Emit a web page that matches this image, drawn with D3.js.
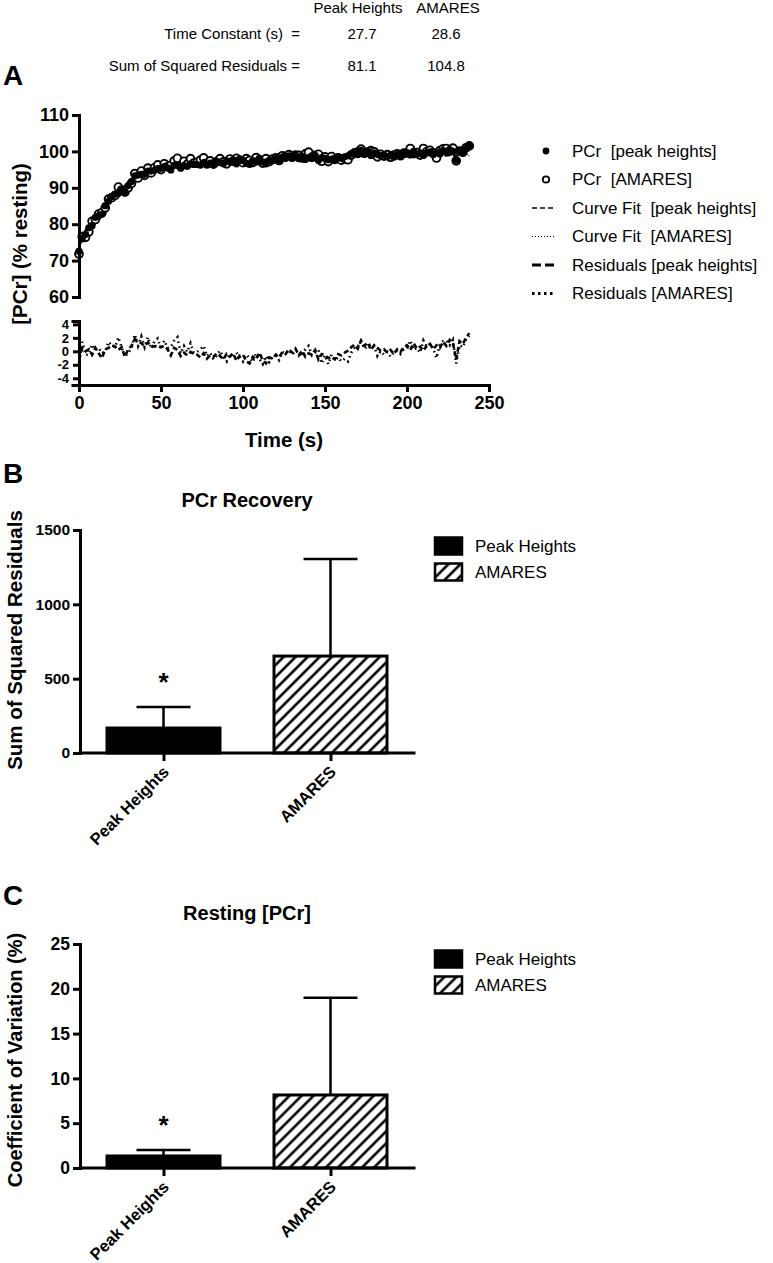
<!DOCTYPE html>
<html><head><meta charset="utf-8">
<script src="https://cdn.jsdelivr.net/npm/d3@7"></script>
<style>
body{margin:0;background:#fff}
svg{display:block}
svg text{white-space:pre}
</style>
</head><body>
<svg id="chart" width="773" height="1263"></svg>
<script>
// ---------- DATA ----------
const tableCols = ["Peak Heights", "AMARES"];
const tableRows = ["Time Constant (s)  =", "Sum of Squared Residuals ="];
const timeConstant = ["27.7", "28.6"];
const sumSqResid = ["81.1", "104.8"];

const times = [0,2,4,6,8,10,12,14,16,18,20,22,24,26,28,30,32,34,36,38,
 40,42,44,46,48,50,52,54,56,58,60,62,64,66,68,70,72,74,76,78,
 80,82,84,86,88,90,92,94,96,98,100,102,104,106,108,110,112,114,116,118,
 120,122,124,126,128,130,132,134,136,138,140,142,144,146,148,150,152,154,156,158,
 160,162,164,166,168,170,172,174,176,178,180,182,184,186,188,190,192,194,196,198,
 200,202,204,206,208,210,212,214,216,218,220,222,224,226,228,230,232,234,236,238];

const pcrPeak = [72.6,76.0,77.2,79.0,79.6,81.9,82.3,82.7,85.1,86.3,
 87.6,88.2,88.5,89.6,88.9,90.6,91.7,93.3,93.5,93.7,
 93.7,94.6,94.6,94.8,95.3,95.3,95.8,95.5,94.9,96.2,
 96.1,95.4,96.1,95.9,96.6,96.4,96.4,96.2,96.9,96.2,
 96.8,96.7,97.3,97.0,96.6,97.4,97.1,97.7,96.6,97.5,
 97.6,96.7,96.4,97.5,97.1,98.1,97.1,96.6,97.5,97.4,
 98.0,97.6,98.4,98.1,98.8,98.3,99.0,98.0,98.7,97.8,
 98.3,98.1,98.9,97.5,98.3,98.1,97.7,97.9,97.5,98.3,
 98.1,98.5,98.8,99.3,99.7,99.1,100.3,99.5,100.0,98.9,
 99.6,99.2,98.8,99.0,98.5,99.0,98.4,99.1,98.7,99.4,
 99.7,99.0,100.0,99.2,99.5,98.9,99.6,99.9,99.1,99.7,
 99.3,100.2,99.6,100.5,100.0,97.6,100.3,99.9,100.8,101.5];

const pcrAmares = [71.8,76.6,76.4,77.9,80.8,81.3,82.8,83.2,84.5,86.9,
 87.3,87.9,90.2,89.4,88.8,90.0,91.2,93.9,92.7,94.6,
 93.4,95.4,94.1,95.5,96.3,95.0,96.6,95.8,96.2,97.4,
 98.1,96.0,97.3,96.5,98.0,96.8,97.0,97.6,98.2,96.8,
 97.4,96.5,97.2,98.0,97.1,96.6,97.9,97.3,98.1,97.6,
 96.9,98.0,97.5,97.0,98.3,97.6,96.8,98.0,97.2,97.9,
 98.2,97.5,98.8,98.6,99.1,98.4,99.0,98.9,98.2,99.3,
 99.8,98.4,98.9,99.2,97.3,98.5,97.2,98.6,97.8,98.2,
 97.6,98.0,97.7,99.0,99.6,99.8,100.6,99.5,99.8,100.2,
 99.9,98.5,99.2,98.7,99.1,98.4,99.0,99.3,98.8,99.5,
 99.6,100.8,99.4,99.7,99.0,100.8,99.9,100.3,99.6,98.2,
 100.2,100.7,100.8,100.1,100.9,97.4,100.1,99.8,101.0,101.5];

const residPeak = [-1.2,0.5,0.0,0.3,-0.5,0.5,-0.3,-1.0,0.3,0.5,
 0.9,0.7,0.2,0.6,-0.8,0.3,0.8,1.8,1.5,1.2,
 0.8,1.3,0.9,0.7,0.9,0.6,0.8,0.3,-0.6,0.5,
 0.2,-0.7,-0.2,-0.6,-0.1,-0.4,-0.5,-0.9,-0.3,-1.1,
 -0.6,-0.8,-0.3,-0.7,-1.2,-0.4,-0.8,-0.3,-1.4,-0.6,
 -0.5,-1.5,-1.8,-0.8,-1.2,-0.2,-1.3,-1.8,-0.9,-1.1,
 -0.5,-0.9,-0.1,-0.4,0.3,-0.2,0.4,-0.6,0.1,-0.8,
 -0.3,-0.5,0.2,-1.2,-0.4,-0.6,-1.0,-0.8,-1.2,-0.4,
 -0.6,-0.2,0.1,0.6,1.0,0.4,1.6,0.8,1.3,0.2,
 0.9,0.5,0.1,0.3,-0.2,0.2,-0.4,0.3,-0.1,0.6,
 0.9,0.2,1.2,0.4,0.7,0.1,0.8,1.1,0.3,0.9,
 0.5,1.4,0.8,1.7,1.2,-1.2,1.5,1.1,2.0,2.7];

const residAmares = [-1.7,1.4,-0.5,-0.5,1.0,0.2,0.5,-0.3,0.0,1.4,
 0.9,0.6,2.1,0.6,-0.8,-0.2,0.4,2.5,0.8,2.2,
 0.6,2.1,0.4,1.5,1.9,0.3,1.6,0.5,0.6,1.6,
 2.1,-0.3,0.8,-0.1,1.2,-0.2,-0.1,0.3,0.8,-0.7,
 -0.2,-1.2,-0.6,0.1,-0.9,-1.5,-0.3,-0.9,-0.2,-0.8,
 -1.5,-0.5,-1.0,-1.6,-0.3,-1.1,-1.9,-0.7,-1.6,-0.9,
 -0.6,-1.3,-0.1,-0.3,0.2,-0.5,0.1,-0.1,-0.8,0.3,
 0.8,-0.6,-0.2,0.2,-1.8,-0.6,-1.9,-0.5,-1.3,-0.9,
 -1.5,-1.1,-1.5,-0.2,0.5,0.7,1.5,0.4,0.7,1.1,
 0.8,-0.7,0.0,-0.5,-0.1,-0.8,-0.2,0.1,-0.4,0.3,
 0.4,1.6,0.2,0.5,-0.2,1.6,0.7,1.1,0.4,-1.0,
 1.0,1.5,1.6,0.9,1.7,-1.8,0.9,0.6,1.8,2.3];

const fitTimes = [0,2,4,6,8,10,15,20,25,30,40,50,60,70,80,90,100,120,140,160,180,200,220,238];
const fitPeak = [73.8,75.5,77.2,78.7,80.1,81.4,84.3,86.7,88.6,90.3,92.9,94.7,95.9,96.8,97.4,97.8,98.1,98.5,98.6,98.7,98.8,98.8,98.8,98.8];
const fitAmares = [73.5,75.2,76.9,78.4,79.8,81.1,84.0,86.4,88.4,90.2,92.85,94.7,96.05,97.0,97.6,98.1,98.4,98.8,99.0,99.1,99.15,99.2,99.2,99.2];

const xTicksA = [0,50,100,150,200,250];
const yTicksA = [60,70,80,90,100,110];
const yTicksRes = [-4,-2,0,2,4];

const legendA = ["PCr  [peak heights]", "PCr  [AMARES]", "Curve Fit  [peak heights]", "Curve Fit  [AMARES]", "Residuals [peak heights]", "Residuals [AMARES]"];

const barCategories = ["Peak Heights", "AMARES"];
const ssrMean = [168, 652];
const ssrSD = [141, 653];
const ssrTicks = [0,500,1000,1500];
const cvMean = [1.34, 8.15];
const cvSD = [0.66, 10.85];
const cvTicks = [0,5,10,15,20,25];

// ---------- DRAW ----------
const FONT = '"Liberation Sans", Arial, Helvetica, sans-serif';
const plain = d => String(d);
const svg = d3.select("#chart").attr("font-family", FONT);
svg.append("rect").attr("width",773).attr("height",1263).attr("fill","#fff");

const defs = svg.append("defs");
const pat = defs.append("pattern").attr("id","hatch").attr("patternUnits","userSpaceOnUse")
  .attr("width",8.5).attr("height",8.5).attr("patternTransform","rotate(45)");
pat.append("rect").attr("width",8.5).attr("height",8.5).attr("fill","#fff");
pat.append("line").attr("x1",2).attr("y1",0).attr("x2",2).attr("y2",8.5).attr("stroke","#000").attr("stroke-width",2.6);

function styleAxis(g, fs){
  g.attr("font-family", FONT).attr("font-size", fs).attr("font-weight","bold");
  g.select(".domain").attr("stroke","#000").attr("stroke-width",3).attr("stroke-linecap","square");
  g.selectAll(".tick line").attr("stroke","#000").attr("stroke-width",3);
  g.selectAll(".tick text").attr("fill","#000");
}

// top table
const tbl = svg.append("g").attr("font-size",15);
tbl.selectAll(".hdr").data(tableCols).join("text")
  .attr("x",(d,i)=>[358,448][i]).attr("y",13).attr("text-anchor","middle").text(d=>d);
tbl.selectAll(".rl").data(tableRows).join("text")
  .attr("x",300).attr("y",(d,i)=>[39,71][i]).attr("text-anchor","end").text(d=>d);
[timeConstant, sumSqResid].forEach((row,ri)=>{
  tbl.selectAll(".v"+ri).data(row).join("text")
    .attr("x",(d,i)=>[362,446][i]).attr("y",[39,71][ri]).attr("text-anchor","middle").text(d=>d);
});

// panel letters
[["A",85],["B",483],["C",905]].forEach(([l,y])=>{
  svg.append("text").attr("x",3).attr("y",y).attr("font-size",28).attr("font-weight","bold").text(l);
});

// ----- Panel A -----
const xA = d3.scaleLinear().domain([0,250]).range([79,489]);
const yA = d3.scaleLinear().domain([60,110]).range([297,115]);
const yR = d3.scaleLinear().domain([-5,4.5]).range([385,321]);

const gA = svg.append("g");
const fitLine = d3.line().x((d,i)=>xA(fitTimes[i])).y(d=>yA(d)).curve(d3.curveMonotoneX);
gA.append("path").attr("d",fitLine(fitPeak)).attr("fill","none").attr("stroke","#000").attr("stroke-width",1.3).attr("stroke-dasharray","5,3");
gA.append("path").attr("d",fitLine(fitAmares)).attr("fill","none").attr("stroke","#000").attr("stroke-width",1.2).attr("stroke-dasharray","1,2");

gA.selectAll(".am").data(pcrAmares).join("circle")
  .attr("cx",(d,i)=>xA(times[i])).attr("cy",d=>yA(d)).attr("r",3.9)
  .attr("fill","#fff").attr("stroke","#000").attr("stroke-width",1.9);
gA.selectAll(".ph").data(pcrPeak).join("circle")
  .attr("cx",(d,i)=>xA(times[i])).attr("cy",d=>yA(d)).attr("r",3.6).attr("fill","#000");

const resLine = d3.line().x((d,i)=>xA(times[i])).y(d=>yR(d));
gA.append("path").attr("d",resLine(residPeak)).attr("fill","none").attr("stroke","#000").attr("stroke-width",2.6).attr("stroke-dasharray","5,3");
gA.append("path").attr("d",resLine(residAmares)).attr("fill","none").attr("stroke","#000").attr("stroke-width",2.6).attr("stroke-dasharray","1.5,3.5");

styleAxis(svg.append("g").attr("transform","translate(79,0)")
  .call(d3.axisLeft(yA).tickValues(yTicksA).tickFormat(plain).tickSize(7).tickPadding(3).tickSizeOuter(0)), 18);
styleAxis(svg.append("g").attr("transform","translate(79,0)")
  .call(d3.axisLeft(yR).tickValues(yTicksRes).tickFormat(plain).tickSize(6).tickPadding(4).tickSizeOuter(6)), 13);
styleAxis(svg.append("g").attr("transform","translate(0,385)")
  .call(d3.axisBottom(xA).tickValues(xTicksA).tickFormat(plain).tickSize(7).tickPadding(4).tickSizeOuter(0)), 18);

svg.append("text").attr("transform","translate(27,244) rotate(-90)").attr("text-anchor","middle")
  .attr("font-size",20.5).attr("font-weight","bold").text("[PCr] (% resting)");
svg.append("text").attr("x",284).attr("y",447).attr("text-anchor","middle")
  .attr("font-size",20.5).attr("font-weight","bold").text("Time (s)");

// legend A
const lgA = svg.append("g").attr("font-size",17);
const lgY = i => 151 + i*28.5;
lgA.selectAll("text").data(legendA).join("text")
  .attr("x",572).attr("y",(d,i)=>lgY(i)).attr("dy","0.35em").text(d=>d);
lgA.append("circle").attr("cx",546).attr("cy",lgY(0)).attr("r",3.4).attr("fill","#000");
lgA.append("circle").attr("cx",546).attr("cy",lgY(1)).attr("r",3.2).attr("fill","#fff").attr("stroke","#000").attr("stroke-width",1.8);
const lgLines = [[2,1.3,"5,3"],[3,1.2,"1,2"],[4,3,"9,4"],[5,3,"2.5,3.5"]];
lgLines.forEach(([i,w,da])=>{
  lgA.append("line").attr("x1",532).attr("x2",556).attr("y1",lgY(i)).attr("y2",lgY(i))
    .attr("stroke","#000").attr("stroke-width",w).attr("stroke-dasharray",da);
});

// ----- Bar panels -----
function barPanel(opt){
  const x = d3.scalePoint().domain(barCategories).range([80,414]).padding(0.5);
  const y = d3.scaleLinear().domain(opt.domain).range([opt.y0, opt.y1]);
  const g = svg.append("g");
  const bw = 113;
  g.selectAll(".bar").data(opt.mean).join("rect")
    .attr("x",(d,i)=>x(barCategories[i])-bw/2).attr("width",bw)
    .attr("y",d=>y(d)).attr("height",d=>y(0)-y(d))
    .attr("fill",(d,i)=>i===0?"#000":"url(#hatch)").attr("stroke","#000").attr("stroke-width",3);
  opt.mean.forEach((m,i)=>{
    const cx = x(barCategories[i]);
    g.append("line").attr("x1",cx).attr("x2",cx).attr("y1",y(m)).attr("y2",y(m+opt.sd[i])).attr("stroke","#000").attr("stroke-width",2.5);
    g.append("line").attr("x1",cx-27).attr("x2",cx+27).attr("y1",y(m+opt.sd[i])).attr("y2",y(m+opt.sd[i])).attr("stroke","#000").attr("stroke-width",2.5);
  });
  g.append("text").attr("x",x(barCategories[0])).attr("y",y(opt.mean[0]+opt.sd[0]) - 16)
    .attr("text-anchor","middle").attr("font-size",26).attr("font-weight","bold").text("*");
  styleAxis(svg.append("g").attr("transform","translate(80,0)")
    .call(d3.axisLeft(y).tickValues(opt.ticks).tickFormat(plain).tickSize(7).tickPadding(3).tickSizeOuter(0)), opt.tickFs);
  const xa = svg.append("g").attr("transform",`translate(0,${opt.y0})`)
    .call(d3.axisBottom(x).tickSize(8).tickSizeOuter(0));
  styleAxis(xa, 16.5);
  xa.select(".domain").attr("d",`M80,0H414`);
  xa.selectAll(".tick text").attr("y",0).attr("dy",0).attr("text-anchor","end")
    .attr("transform","translate(6,20) rotate(-45)");
  svg.append("text").attr("x",247).attr("y",opt.titleY).attr("text-anchor","middle")
    .attr("font-size",20).attr("font-weight","bold").text(opt.title);
  svg.append("text").attr("transform",`translate(${opt.ylabX},${opt.ylabY}) rotate(-90)`).attr("text-anchor","middle")
    .attr("font-size",opt.ylabFs).attr("font-weight","bold").text(opt.ylab);
  const lg = svg.append("g").attr("font-size",17);
  barCategories.forEach((c,i)=>{
    const ly = opt.legY + i*26;
    lg.append("rect").attr("x",435).attr("y",ly-8.5).attr("width",27).attr("height",17)
      .attr("fill",i===0?"#000":"url(#hatch)").attr("stroke","#000").attr("stroke-width",2.5);
    lg.append("text").attr("x",475).attr("y",ly).attr("dy","0.35em").text(c);
  });
}

barPanel({domain:[0,1500], y0:753, y1:530, mean:ssrMean, sd:ssrSD, ticks:ssrTicks, tickFs:15.5,
  title:"PCr Recovery", titleY:507, ylab:"Sum of Squared Residuals", ylabX:22, ylabY:640, ylabFs:20.5, legY:546});
barPanel({domain:[0,25], y0:1168, y1:944, mean:cvMean, sd:cvSD, ticks:cvTicks, tickFs:17.5,
  title:"Resting [PCr]", titleY:920, ylab:"Coefficient of Variation (%)", ylabX:22, ylabY:1060, ylabFs:20, legY:959});
</script>
</body></html>
